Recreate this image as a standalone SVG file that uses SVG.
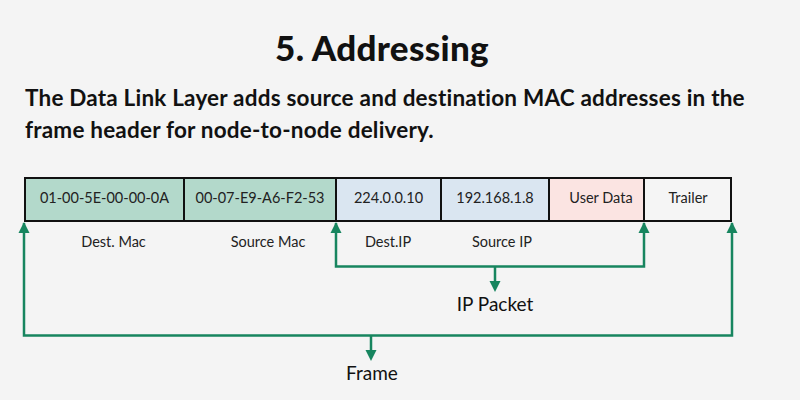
<svg xmlns="http://www.w3.org/2000/svg" width="800" height="400" viewBox="0 0 800 400">
<defs>
<style>
.title{font-family:"Lato","Noto Sans",sans-serif;font-weight:900;font-size:35px;letter-spacing:0.3px;fill:#111;}
.sub{font-family:"Lato","Noto Sans",sans-serif;font-weight:700;font-size:22.5px;letter-spacing:0.2px;fill:#111;}
.cell{stroke:#111;stroke-width:2;}
.ct{font-family:"Lato","Noto Sans",sans-serif;font-size:14.5px;fill:#222;text-anchor:middle;}
.lb{font-family:"Lato","Noto Sans",sans-serif;font-size:14.5px;fill:#222;text-anchor:middle;}
.big{font-family:"Lato","Noto Sans",sans-serif;font-size:19px;fill:#111;text-anchor:middle;}
.wire{fill:none;stroke:#17855f;stroke-width:2.5;}
.head{fill:#17855f;}
</style>
</defs>
<rect width="800" height="400" fill="#f4f4f4"/>
<text class="title" x="382" y="61" text-anchor="middle">5. Addressing</text>
<text class="sub" x="25" y="106">The Data Link Layer adds source and destination MAC addresses in the</text>
<text class="sub" x="25" y="138">frame header for node-to-node delivery.</text>

<g id="dest-mac"><rect class="cell" x="25" y="178" width="159" height="43" fill="#b3d9cb"/><text class="ct" x="104.5" y="203">01-00-5E-00-00-0A</text></g>
<g id="src-mac"><rect class="cell" x="184" y="178" width="152" height="43" fill="#b3d9cb"/><text class="ct" x="260" y="203">00-07-E9-A6-F2-53</text></g>
<g id="dest-ip"><rect class="cell" x="336" y="178" width="105" height="43" fill="#dae6f1"/><text class="ct" x="388.5" y="203">224.0.0.10</text></g>
<g id="src-ip"><rect class="cell" x="441" y="178" width="108" height="43" fill="#dae6f1"/><text class="ct" x="495" y="203">192.168.1.8</text></g>
<g id="user-data"><rect class="cell" x="549" y="178" width="95" height="43" fill="#fbe4e2"/><text class="ct" x="601" y="203">User Data</text></g>
<g id="trailer"><rect class="cell" x="644" y="178" width="87" height="43" fill="#f5f5f5"/><text class="ct" x="688" y="203">Trailer</text></g>

<g id="labels">
<text class="lb" x="113.5" y="247">Dest. Mac</text>
<text class="lb" x="268" y="247">Source Mac</text>
<text class="lb" x="388" y="247">Dest.IP</text>
<text class="lb" x="502" y="247">Source IP</text>
</g>

<g id="connectors">
<polyline class="wire" points="371,335.5 24,335.5 24,223"/>
<path class="head" d="M18.5,233 L24,222 L29.5,233 Z"/>
<polyline class="wire" points="371,335.5 732,335.5 732,223"/>
<path class="head" d="M726.5,233 L732,222 L737.5,233 Z"/>
<line class="wire" x1="371" y1="335.5" x2="371" y2="350"/>
<path class="head" d="M365.5,350 L371,361 L376.5,350 Z"/>

<polyline class="wire" points="336,223 336,266.5 644,266.5 644,223"/>
<path class="head" d="M330.5,233 L336,222 L341.5,233 Z"/>
<path class="head" d="M638.5,233 L644,222 L649.5,233 Z"/>
<line class="wire" x1="495" y1="266.5" x2="495" y2="281"/>
<path class="head" d="M489.5,281 L495,292 L500.5,281 Z"/>
</g>

<g id="captions">
<text class="big" x="495" y="311">IP Packet</text>
<text class="big" x="372" y="380">Frame</text>
</g>
</svg>
